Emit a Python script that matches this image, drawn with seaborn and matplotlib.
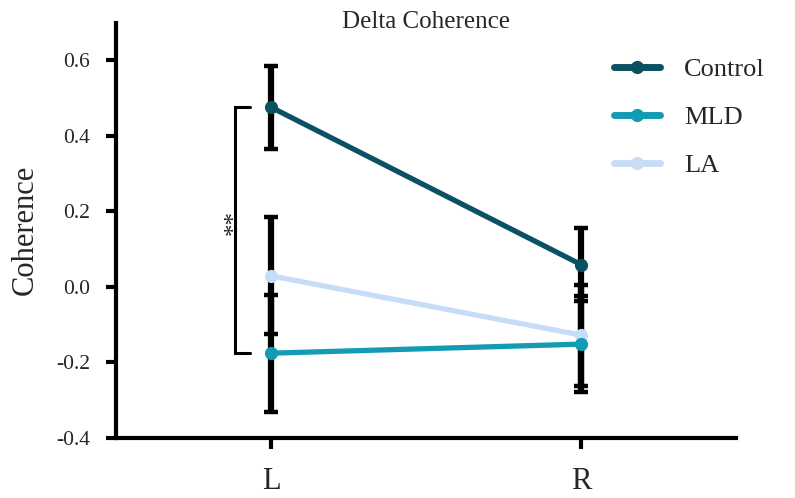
import matplotlib
matplotlib.use("Agg")
import matplotlib.pyplot as plt
from matplotlib.lines import Line2D
import seaborn as sns
import pandas as pd

sides = ["L", "R"]
groups = ["Control", "MLD", "LA"]
control_mean = [0.476, 0.059]
control_err = [0.110, 0.096]
mld_mean = [-0.176, -0.152]
mld_err = [0.155, 0.128]
la_mean = [0.029, -0.128]
la_err = [0.155, 0.134]
colors = {"Control": "#0b5164", "MLD": "#129bb3", "LA": "#c7dcf6"}
yticks = [-0.4, -0.2, 0.0, 0.2, 0.4, 0.6]

means = {"Control": control_mean, "MLD": mld_mean, "LA": la_mean}
errs = {"Control": control_err, "MLD": mld_err, "LA": la_err}

rows = []
for g in groups:
    for s, m, e in zip(sides, means[g], errs[g]):
        rows.append({"side": s, "group": g, "mean": m, "err": e})
df = pd.DataFrame(rows)

sns.set_style("ticks")
plt.rcParams["font.family"] = ["Liberation Serif", "DejaVu Serif"]

fig = plt.figure(figsize=(7.95, 4.98), dpi=100)
ax = fig.add_axes([116 / 795, 60.3 / 498, 620 / 795, 415 / 498])

# error bars (black, beneath lines)
for g in ["Control", "LA", "MLD"]:
    sub = df[df.group == g]
    ax.errorbar(sub["side"], sub["mean"], yerr=sub["err"], fmt="none",
                ecolor="black", elinewidth=4.5, capsize=4.8, capthick=3.2,
                zorder=2)

draw_order = ["Control", "LA", "MLD"]
for g in draw_order:
    sub = df[df.group == g]
    sns.lineplot(data=sub, x="side", y="mean", ax=ax, color=colors[g],
                 linewidth=3.8, marker="o", markersize=9.5,
                 markeredgewidth=0, legend=False, zorder=3, sort=False)

ax.set_xlim(-0.5, 1.5)
ax.set_ylim(-0.4, 0.7)
ax.set_yticks(yticks)
ax.set_yticklabels([f"{v:.1f}" for v in yticks])
ax.set_xlabel("")
ax.set_ylabel("Coherence", fontsize=22, labelpad=12)
ax.set_title("Delta Coherence", fontsize=18, y=0.987, pad=0)

for side in ["top", "right"]:
    ax.spines[side].set_visible(False)
for side in ["left", "bottom"]:
    ax.spines[side].set_linewidth(3)
    ax.spines[side].set_color("black")
ax.tick_params(axis="y", length=7.5, width=3, labelsize=15.5, pad=11, color="black")
ax.tick_params(axis="x", length=8, width=3, labelsize=22, pad=13, color="black")

# significance bracket
bx, barm = -0.116, -0.068
y_top, y_bot = control_mean[0], mld_mean[0]
ax.plot([barm, bx, bx, barm], [y_top, y_top, y_bot, y_bot], color="black",
        linewidth=2.2, solid_joinstyle="miter", clip_on=False, zorder=4)
ax.text(-0.117, 0.17, "**", rotation=90, ha="center", va="center",
        fontsize=18)

handles = [Line2D([0], [0], color=colors[g], linewidth=5, marker="o",
                  markersize=9.5, markeredgewidth=0) for g in groups]
leg = ax.legend(handles, groups, loc="upper left",
                bbox_to_anchor=(614 / 795, 1 - 58 / 498),
                bbox_transform=fig.transFigure, frameon=False, fontsize=19,
                handlelength=1.75, handletextpad=0.9, labelspacing=0.93,
                borderaxespad=0, borderpad=0)

fig.savefig("out.png", dpi=100)
